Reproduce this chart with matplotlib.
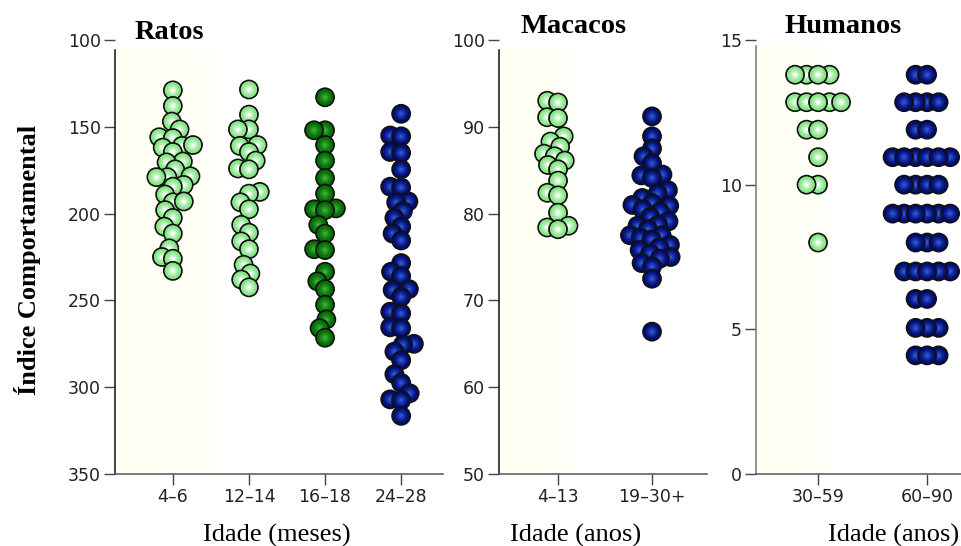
import numpy as np
import matplotlib
matplotlib.use("Agg")
import matplotlib.pyplot as plt
from matplotlib.colors import to_rgb

# ---- data ----
RAT_GROUPS = ["4–6", "12–14", "16–18", "24–28"]
rat_4_6 = [129, 138, 147, 151.5, 156, 156.5, 161, 160.5, 162, 164.5, 170, 170.5,
           174.5, 179, 179, 178.5, 183.5, 184.5, 189, 193.5, 193, 198, 202.5,
           207.5, 211.5, 220, 225, 226, 233]
rat_12_14 = [128.5, 143, 151.5, 151.5, 160.5, 161, 164.5, 169.5, 174, 174.5, 187.5,
             188.5, 193.5, 197.5, 206.5, 211, 216, 220.5, 229.5, 234.5, 238, 242.5]
rat_16_18 = [133, 152, 152, 160.5, 169.5, 179.5, 188.5, 197, 197.5, 198, 206.5,
             211.5, 220.5, 221, 233.5, 239, 243.5, 252.5, 261, 266, 271.5]
rat_24_28 = [142.5, 155, 155.5, 164.5, 165, 174.5, 184.5, 185, 193, 193.5, 198.5,
             202.5, 207.5, 211.5, 215.5, 228.5, 233.5, 236, 243.5, 244, 248, 256.5,
             257.5, 265.5, 266, 275, 275.5, 279.5, 284.5, 292.5, 297.5, 303.5, 307,
             307.5, 316.5]

MAC_GROUPS = ["4–13", "19–30+"]
mac_4_13 = [93.0, 92.8, 91.1, 91.0, 88.9, 88.3, 87.7, 86.9, 86.6, 86.1, 85.6, 85.1,
            83.8, 82.4, 82.1, 80.1, 78.6, 78.4, 78.2]
mac_19_30 = [91.2, 88.9, 87.5, 86.6, 85.8, 84.5, 84.4, 84.1, 82.7, 82.3, 81.8, 81.2,
             81.0, 80.9, 80.5, 80.2, 79.6, 79.1, 78.7, 78.6, 78.2, 77.5, 77.5, 77.2,
             77.0, 76.4, 76.1, 75.8, 75.4, 75.0, 74.8, 74.3, 73.9, 72.5, 66.4]

HUM_GROUPS = ["30–59", "60–90"]
hum_30_59 = ([13.8] * 4 + [12.85] * 5 + [11.9] * 2 + [10.95] * 1 + [10.0] * 2
             + [8.0] * 1)
hum_60_90 = ([13.8] * 2 + [12.85] * 4 + [11.9] * 2 + [10.95] * 6 + [10.0] * 4
             + [9.0] * 6 + [8.0] * 3 + [7.0] * 5 + [6.05] * 2 + [5.05] * 3
             + [4.1] * 3)

# (base colour, highlight colour) for the shaded spheres
LIGHT = ("#7ee47e", "#ffffff")
DARK = ("#006a00", "#3cae3c")
NAVY = ("#000a6a", "#2e54d8")

W, H = 962, 546
MSIZE = 168          # marker area, pt^2 (~18 px across)
SERIF = "Liberation Serif"


def swarm(ax, pos, vals, d):
    """Beeswarm offsets computed in pixel space, returned in data x."""
    pts = ax.transData.transform(np.column_stack([np.full(len(vals), pos), vals]))
    x0, ys = pts[0, 0], pts[:, 1]
    xs = np.zeros(len(vals))
    placed = []
    for i in np.argsort(ys):
        y = ys[i]
        near = [(px, py) for px, py in placed if abs(py - y) < d]
        cands = [0.0]
        for px, py in near:
            dx = np.sqrt(d * d - (py - y) ** 2)
            cands += [px + dx, px - dx]
        cands.sort(key=lambda c: (abs(c), c))
        for c in cands:
            if all((c - px) ** 2 + (y - py) ** 2 >= d * d - 1e-6 for px, py in near):
                xs[i] = c
                placed.append((c, y))
                break
    back = ax.transData.inverted().transform(np.column_stack([x0 + xs, ys]))
    return back[:, 0]


def spheres(ax, xs, ys, cols):
    base, hi = np.array(to_rgb(cols[0])), np.array(to_rgb(cols[1]))
    n = 9
    fr = np.linspace(1.0, 0.15, n)
    ts = np.linspace(0, 1, n) ** 1.6
    fills = [tuple(base * (1 - t) + hi * t) for t in ts]
    edges = ["#111111"] + ["none"] * (n - 1)
    lws = [1.3] + [0] * (n - 1)
    for x, y in zip(xs, ys):
        ax.scatter([x] * n, [y] * n, s=MSIZE * fr ** 2, c=fills,
                   edgecolors=edges, linewidths=lws)


def band(ax, x0, x1, y0, y1):
    u = np.linspace(0, 1, 200)
    img = np.zeros((1, 200, 4))
    img[..., :3] = (1.0, 1.0, 0.94)
    img[..., 3] = np.clip(1 - u ** 3, 0, 1) * 0.75
    ax.imshow(img, extent=[x0, x1, y0, y1], aspect="auto", zorder=0,
              interpolation="bilinear")


def make_ax(fig, left, right, xlim, ylim, ticks, spine_top, groups, spine_col):
    ax = fig.add_axes([left / W, 1 - 474 / H, (right - left) / W, 434 / H])
    ax.set_xlim(*xlim)
    ax.set_ylim(*ylim)
    for s in ("top", "right"):
        ax.spines[s].set_visible(False)
    ax.spines["left"].set_bounds(spine_top, ylim[0])
    ax.spines["left"].set_color(spine_col)
    ax.spines["bottom"].set_color("#555555")
    for s in ("left", "bottom"):
        ax.spines[s].set_linewidth(1.1)
    ax.set_yticks(ticks)
    ax.set_xticks(range(len(groups)))
    ax.set_xticklabels(groups)
    ax.tick_params(length=8, width=1, color="#444444", labelcolor="#222222",
                   labelsize=12.5, pad=2)
    return ax


fig = plt.figure(figsize=(W / 100, H / 100), dpi=100)
plt.rcParams["font.family"] = ["DejaVu Sans"]

# Ratos
ax1 = make_ax(fig, 115, 443, (-0.76, 3.55), (350, 100), range(100, 351, 50),
              105.5, RAT_GROUPS, "#111111")
band(ax1, -0.76, 0.71, 350, 105.5)
for i, (vals, col) in enumerate([(rat_4_6, LIGHT), (rat_12_14, LIGHT),
                                 (rat_16_18, DARK), (rat_24_28, NAVY)]):
    spheres(ax1, swarm(ax1, i, vals, 11), vals, col)

# Macacos
ax2 = make_ax(fig, 499, 707, (-0.628, 1.585), (50, 100), range(50, 101, 10),
              98.9, MAC_GROUPS, "#111111")
band(ax2, -0.628, 0.25, 50, 98.9)
for i, (vals, col) in enumerate([(mac_4_13, LIGHT), (mac_19_30, NAVY)]):
    spheres(ax2, swarm(ax2, i, vals, 11), vals, col)

# Humanos
ax3 = make_ax(fig, 756, 962, (-0.569, 1.32), (0, 15), range(0, 16, 5),
              14.8, HUM_GROUPS, "#777777")
band(ax3, -0.569, 0.17, 0, 14.8)
for i, (vals, col) in enumerate([(hum_30_59, LIGHT), (hum_60_90, NAVY)]):
    spheres(ax3, swarm(ax3, i, vals, 11.5), vals, col)

# titles and labels
fig.text(135 / W, 1 - 39 / H, "Ratos", family=SERIF, weight="bold", fontsize=20.5,
         va="baseline")
fig.text(521 / W, 1 - 33 / H, "Macacos", family=SERIF, weight="bold", fontsize=20.5,
         va="baseline")
fig.text(785 / W, 1 - 33 / H, "Humanos", family=SERIF, weight="bold", fontsize=20.5,
         va="baseline")
fig.text(28 / W, 1 - 260 / H, "Índice Comportamental", family=SERIF, weight="bold",
         fontsize=19, rotation=90, ha="center", va="center")
fig.text(277 / W, 1 - 542 / H, "Idade (meses)", family=SERIF, fontsize=19,
         ha="center", va="baseline")
fig.text(576 / W, 1 - 542 / H, "Idade (anos)", family=SERIF, fontsize=19,
         ha="center", va="baseline")
fig.text(894 / W, 1 - 542 / H, "Idade (anos)", family=SERIF, fontsize=19,
         ha="center", va="baseline")

fig.savefig("out.png", dpi=100, facecolor="white")
